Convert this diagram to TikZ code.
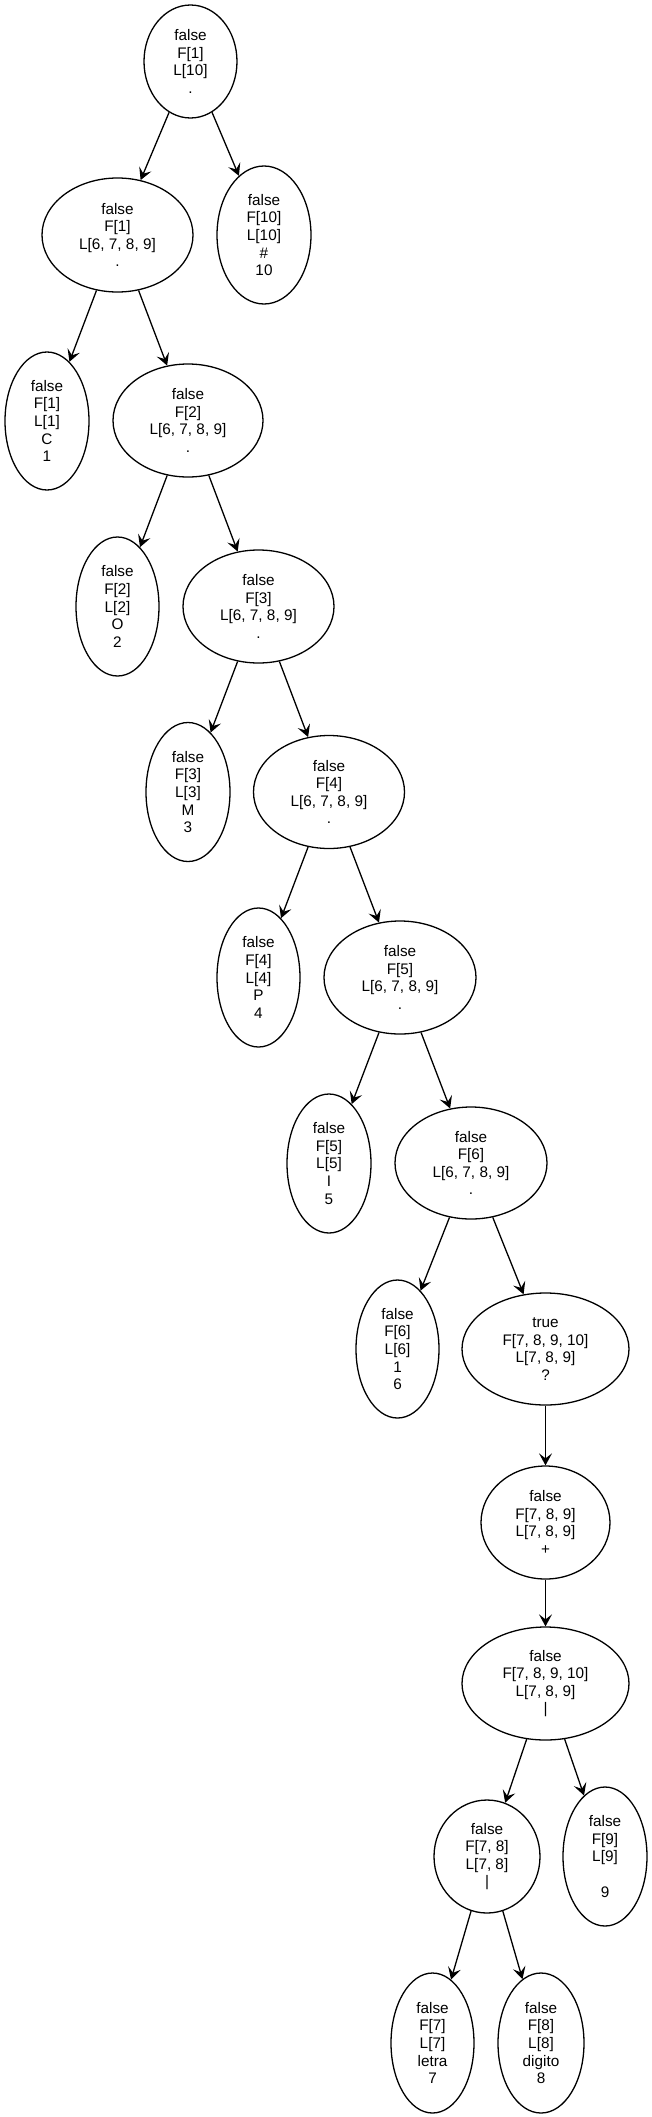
\documentclass[tikz,border=0pt]{standalone}
\usepackage{fontspec}
\setmainfont{Liberation Sans}
\usetikzlibrary{shapes.geometric,arrows.meta}
\begin{document}
\begin{tikzpicture}[x=1pt,y=-1pt,
  ell/.style={ellipse,draw,line width=1.3pt,inner sep=0pt,align=center,
    font=\fontsize{15.3}{17.6}\selectfont},
  edge/.style={line width=1.3pt,-{Stealth[length=12pt,width=13pt,inset=5pt]}}]
\useasboundingbox (0,0) rectangle (652,2117);
\node[ell,minimum width=93pt,minimum height=113pt] (root) at (190.5,61.5) {false\\F[1]\\L[10]\\.};
\node[ell,minimum width=151pt,minimum height=114pt] (n1) at (117.5,235) {false\\F[1]\\L[6, 7, 8, 9]\\.};
\node[ell,minimum width=94pt,minimum height=138pt] (n10) at (264,235) {false\\F[10]\\L[10]\\\#\\10};
\node[ell,minimum width=84pt,minimum height=138pt] (c1) at (47,421) {false\\F[1]\\L[1]\\C\\1};
\node[ell,minimum width=150pt,minimum height=113pt] (n2) at (188,420.5) {false\\F[2]\\L[6, 7, 8, 9]\\.};
\node[ell,minimum width=83pt,minimum height=139pt] (o2) at (117.5,606.5) {false\\F[2]\\L[2]\\O\\2};
\node[ell,minimum width=151pt,minimum height=113pt] (n3) at (258.5,606.5) {false\\F[3]\\L[6, 7, 8, 9]\\.};
\node[ell,minimum width=84pt,minimum height=139pt] (m3) at (188,792) {false\\F[3]\\L[3]\\M\\3};
\node[ell,minimum width=151pt,minimum height=113pt] (n4) at (329,792) {false\\F[4]\\L[6, 7, 8, 9]\\.};
\node[ell,minimum width=83pt,minimum height=139pt] (p4) at (258.5,977.5) {false\\F[4]\\L[4]\\P\\4};
\node[ell,minimum width=152pt,minimum height=113pt] (n5) at (400,977.5) {false\\F[5]\\L[6, 7, 8, 9]\\.};
\node[ell,minimum width=84pt,minimum height=139pt] (i5) at (329,1163.5) {false\\F[5]\\L[5]\\I\\5};
\node[ell,minimum width=152pt,minimum height=112pt] (n6) at (471,1163) {false\\F[6]\\L[6, 7, 8, 9]\\.};
\node[ell,minimum width=83pt,minimum height=138pt] (l6) at (397.5,1349) {false\\F[6]\\L[6]\\1\\6};
\node[ell,minimum width=167pt,minimum height=112pt] (t) at (545.5,1349) {true\\F[7, 8, 9, 10]\\L[7, 8, 9]\\?};
\node[ell,minimum width=129pt,minimum height=113pt] (plus) at (545.5,1522.5) {false\\F[7, 8, 9]\\L[7, 8, 9]\\+};
\node[ell,minimum width=167pt,minimum height=113pt] (bar) at (545.5,1683.5) {false\\F[7, 8, 9, 10]\\L[7, 8, 9]\\|};
\node[ell,minimum width=106pt,minimum height=113pt] (n78) at (487,1856.5) {false\\F[7, 8]\\L[7, 8]\\|};
\node[ell,minimum width=84pt,minimum height=139pt] (f9) at (605,1856.5) {false\\F[9]\\L[9]\\\mbox{}\\9};
\node[ell,minimum width=83pt,minimum height=140pt] (letra) at (432.5,2043) {false\\F[7]\\L[7]\\letra\\7};
\node[ell,minimum width=86pt,minimum height=140pt] (digito) at (541,2043) {false\\F[8]\\L[8]\\digito\\8};
\draw[edge] (root) -- (n1);
\draw[edge] (root) -- (n10);
\draw[edge] (n1) -- (c1);
\draw[edge] (n1) -- (n2);
\draw[edge] (n2) -- (o2);
\draw[edge] (n2) -- (n3);
\draw[edge] (n3) -- (m3);
\draw[edge] (n3) -- (n4);
\draw[edge] (n4) -- (p4);
\draw[edge] (n4) -- (n5);
\draw[edge] (n5) -- (i5);
\draw[edge] (n5) -- (n6);
\draw[edge] (n6) -- (l6);
\draw[edge] (n6) -- (t);
\draw[edge] (t) -- (plus);
\draw[edge] (plus) -- (bar);
\draw[edge] (bar) -- (n78);
\draw[edge] (bar) -- (f9);
\draw[edge] (n78) -- (letra);
\draw[edge] (n78) -- (digito);
\end{tikzpicture}
\end{document}
